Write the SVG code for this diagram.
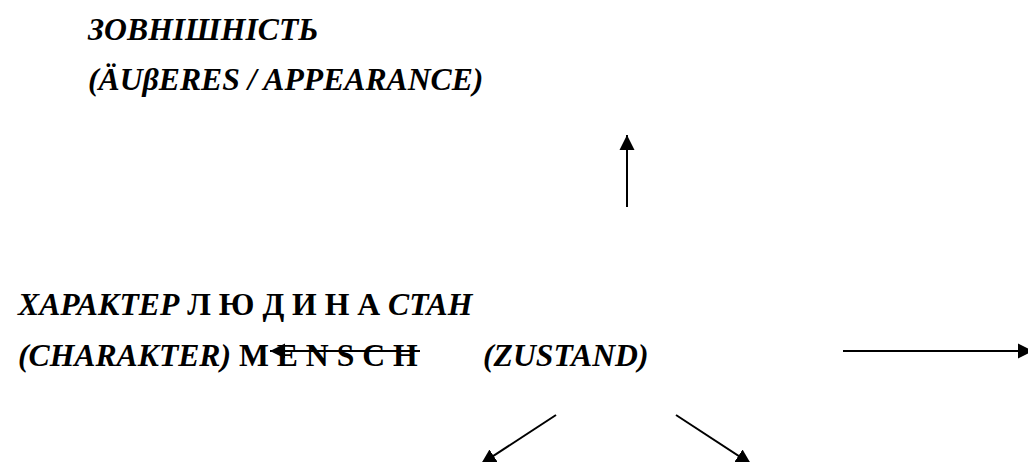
<svg xmlns="http://www.w3.org/2000/svg" width="1028" height="462" viewBox="0 0 1028 462">
<style>
text{font-family:"Liberation Serif","Times New Roman",serif;font-weight:bold;font-size:31.7px;fill:#000}
.i{font-style:italic}
.c{stroke:#000;stroke-width:2;fill:none}
</style>
<defs>
<marker id="ah" markerUnits="userSpaceOnUse" markerWidth="16" markerHeight="16" refX="15" refY="8" orient="auto">
<path d="M0,0.5 L15,8 L0,15.5 Z" fill="#000"/>
</marker>
</defs>
<rect width="1028" height="462" fill="#fff"/>
<g id="node-appearance">
<text class="i" x="88" y="40">ЗОВНІШНІСТЬ</text>
<text class="i" x="88" y="90">(ÄUβERES / APPEARANCE)</text>
</g>
<g id="node-human">
<text x="18" y="315"><tspan class="i">ХАРАКТЕР</tspan> Л Ю Д И Н А <tspan class="i">СТАН</tspan></text>
<text x="18" y="366"><tspan class="i">(CHARAKTER)</tspan> M E N S C H <tspan class="i" x="483">(ZUSTAND)</tspan></text>
</g>
<g id="connectors">
<line class="c" x1="627" y1="207" x2="627" y2="135" marker-end="url(#ah)"/>
<line class="c" x1="843" y1="351" x2="1033" y2="351" marker-end="url(#ah)"/>
<line class="c" x1="420" y1="351" x2="270" y2="351" marker-end="url(#ah)"/>
<line class="c" x1="556" y1="415" x2="481" y2="464" marker-end="url(#ah)"/>
<line class="c" x1="676" y1="415" x2="751" y2="464" marker-end="url(#ah)"/>
</g>
</svg>
